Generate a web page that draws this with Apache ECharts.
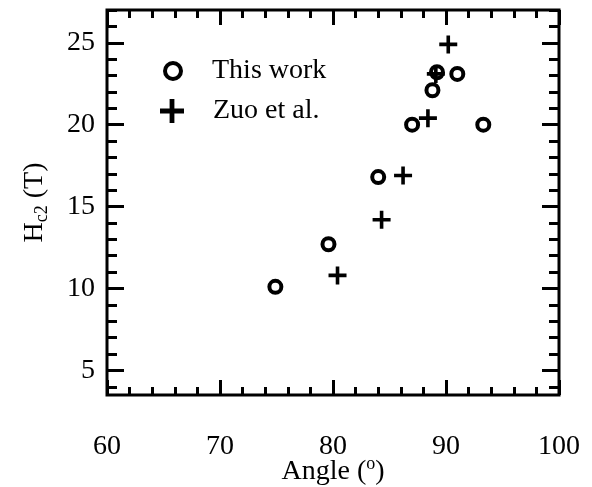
<!DOCTYPE html>
<html>
<head>
<meta charset="utf-8">
<title>Hc2 vs angle</title>
<style>
  html, body { margin: 0; padding: 0; background: #fff; }
  #container { width: 592px; height: 487px; }
</style>
</head>
<body>
<div id="container"></div>
<script src="https://cdn.jsdelivr.net/npm/echarts@6/dist/echarts.min.js"></script>
<script>
// values
var thisWorkAngle = [74.9, 79.6, 84.0, 87.0, 88.8, 89.2, 91.0, 93.3];
var thisWorkHc2   = [10.1, 12.7, 16.8, 20.0, 22.1, 23.2, 23.1, 20.0];
var zuoAngle = [80.4, 84.3, 86.2, 88.4, 89.1, 90.2];
var zuoHc2   = [10.8, 14.2, 16.9, 20.4, 23.1, 24.9];
var yMajor = [5, 10, 15, 20, 25];
var yMinor = [4, 5, 6, 7, 8, 9, 10, 11, 12, 13, 14, 15, 16, 17, 18, 19, 20, 21, 22, 23, 24, 25, 26, 27];

function pairs(xs, ys) {
    var out = [];
    for (var i = 0; i < xs.length; i++) out.push([xs[i], ys[i]]);
    return out;
}

var serif = "'Liberation Serif', 'Times New Roman', serif";
var plus = 'path://M-2,-10 L2,-10 L2,-2 L10,-2 L10,2 L2,2 L2,10 L-2,10 L-2,2 L-10,2 L-10,-2 L-2,-2 Z';

function xAx(pos, labels) {
    return {
        type: 'value', position: pos, min: 60, max: 100, interval: 10,
        axisLine: { show: false },
        axisTick: { show: true, inside: true, length: 15, lineStyle: { color: '#000', width: 3 } },
        minorTick: { show: true, splitNumber: 5, length: 8, lineStyle: { color: '#000', width: 3 } },
        axisLabel: { show: labels, margin: 38, color: '#000', fontFamily: serif, fontSize: 28 },
        splitLine: { show: false },
        minorSplitLine: { show: false }
    };
}

function yAx(pos, ticks, len, labels) {
    return {
        type: 'value', position: pos, min: 3.5, max: 27,
        axisLine: { show: false },
        axisTick: { show: true, inside: true, length: len, customValues: ticks, lineStyle: { color: '#000', width: 3 } },
        axisLabel: { show: labels, customValues: yMajor, margin: 12, color: '#000', fontFamily: serif, fontSize: 28 },
        splitLine: { show: false }
    };
}

var chart = echarts.init(document.getElementById('container'));

var xBottom = xAx('bottom', true);
xBottom.name = 'Angle ({sup|o})';
xBottom.nameLocation = 'middle';
xBottom.nameMoveOverlap = false;
xBottom.nameGap = 60;
xBottom.nameTextStyle = {
    color: '#000', fontFamily: serif, fontSize: 28,
    rich: { sup: { fontFamily: serif, fontSize: 18, verticalAlign: 'top', padding: [0, 0, 16, 0] } }
};

var yLeft = yAx('left', yMajor, 17, true);
yLeft.name = 'H{sub|c2} (T)';
yLeft.nameLocation = 'middle';
yLeft.nameMoveOverlap = false;
yLeft.nameGap = 56;
yLeft.nameTextStyle = {
    color: '#000', fontFamily: serif, fontSize: 28,
    rich: { sub: { fontFamily: serif, fontSize: 18, padding: [14, 0, 0, 0] } }
};

var legendText = { color: '#000', fontFamily: serif, fontSize: 28 };

var option = {
    backgroundColor: '#fff',
    animation: false,
    grid: {
        left: 107, right: 33, top: 10, bottom: 92,
        outerBoundsMode: 'none',
        containLabel: false,
        show: true, borderColor: '#000', borderWidth: 3, backgroundColor: 'transparent'
    },
    legend: [
        {
            left: 158, top: 52,
            itemWidth: 16, itemHeight: 16,
            textStyle: Object.assign({ padding: [0, 0, 0, 26] }, legendText),
            data: [{ name: 'This work', itemStyle: { color: '#fff', borderColor: '#000', borderWidth: 4 } }]
        },
        {
            left: 155, top: 92,
            itemWidth: 24, itemHeight: 24,
            textStyle: Object.assign({ padding: [0, 0, 0, 24] }, legendText),
            data: ['Zuo et al.']
        }
    ],
    xAxis: [xBottom, xAx('top', false)],
    yAxis: [
        yLeft,
        yAx('left', yMinor, 10, false),
        yAx('right', yMajor, 17, false),
        yAx('right', yMinor, 10, false)
    ],
    series: [
        {
            name: 'This work',
            type: 'scatter',
            symbol: 'circle',
            symbolSize: 12,
            itemStyle: { color: '#fff', borderColor: '#000', borderWidth: 4, opacity: 1 },
            data: pairs(thisWorkAngle, thisWorkHc2)
        },
        {
            name: 'Zuo et al.',
            type: 'scatter',
            symbol: plus,
            symbolSize: 18,
            itemStyle: { color: '#000', opacity: 1 },
            data: pairs(zuoAngle, zuoHc2)
        }
    ]
};
chart.setOption(option);
</script>
</body>
</html>
